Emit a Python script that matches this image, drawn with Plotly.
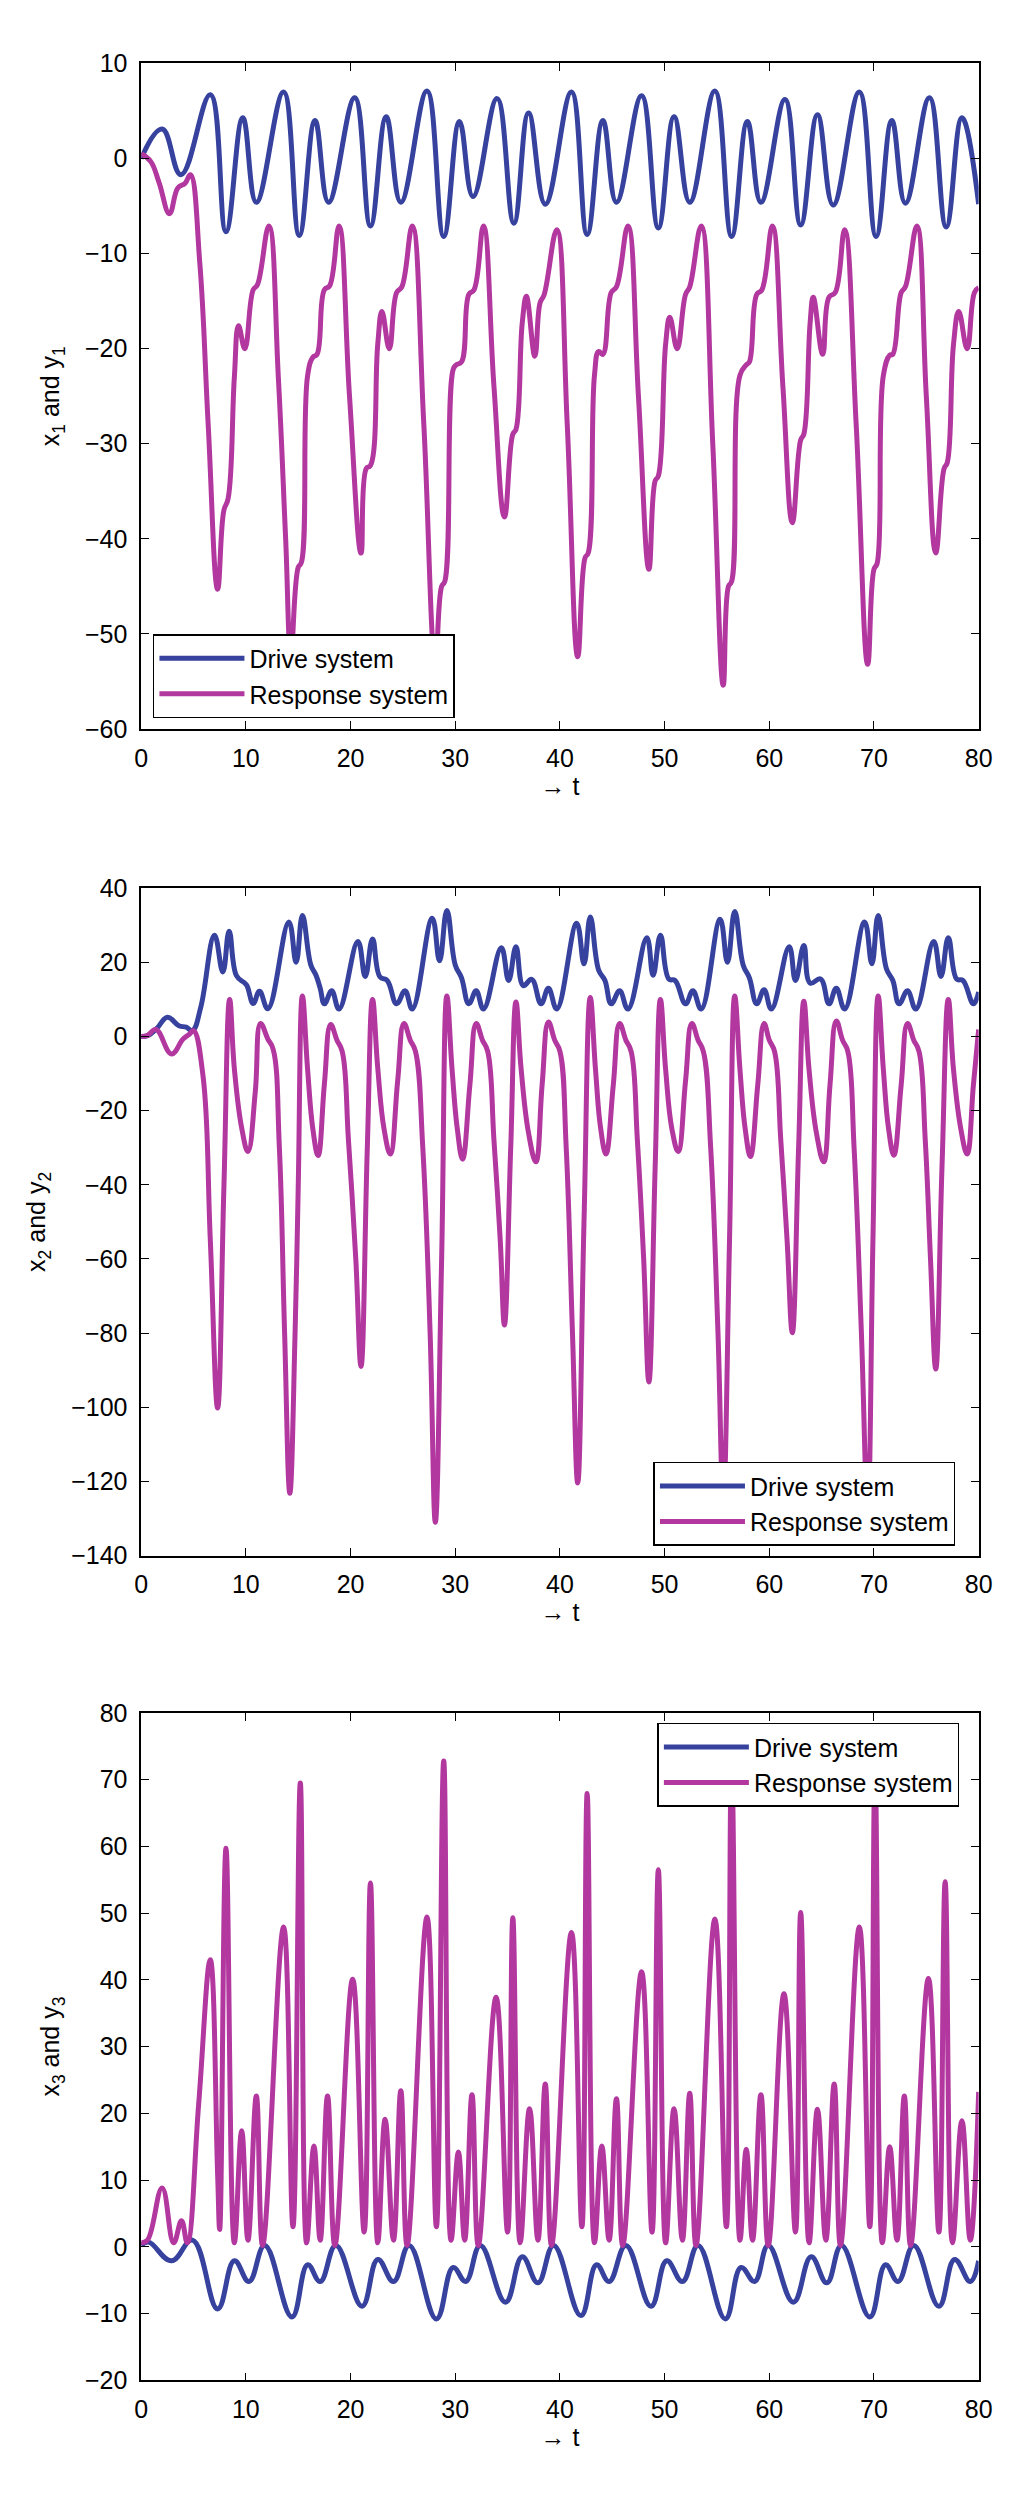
import plotly.graph_objects as go

# ---------------- data ----------------
# Panel 1: x1 (drive) and y1 (response)
t_x1 = [0, 2.0, 3.8, 6.6, 8.1, 9.7, 11.0, 13.6, 15.1, 16.6, 17.9, 20.4, 21.9, 23.4, 24.8,
        27.3, 28.9, 30.4, 31.7, 34.0, 35.6, 37.0, 38.6, 41.1, 42.6, 44.1, 45.4, 47.8, 49.4,
        50.9, 52.4, 54.8, 56.4, 57.9, 59.2, 61.5, 63.0, 64.6, 66.1, 68.6, 70.2, 71.7, 73.0,
        75.3, 76.9, 78.4, 80]
x1 = [0, 3.1, -1.7, 6.7, -7.7, 4.3, -4.6, 7.0, -8.1, 4.0, -4.6, 6.4, -7.1, 4.4, -4.6,
      7.1, -8.2, 3.9, -4.0, 6.3, -6.8, 4.8, -4.8, 7.0, -8.0, 4.0, -4.6, 6.6, -7.3,
      4.4, -4.6, 7.1, -8.2, 3.9, -4.6, 6.2, -7.0, 4.6, -4.9, 7.0, -8.2, 4.0, -4.7,
      6.4, -7.2, 4.3, -4.8]

t_y1 = [0, 0.9, 1.7, 2.7, 3.5, 4.2, 4.7, 5.6, 6.4, 7.3, 7.9, 8.3, 8.9, 9.3, 9.9, 10.7, 11.1,
        12.2, 13.1, 13.8, 14.3, 15.0, 15.3, 15.9, 16.4, 16.8, 17.5, 18.0,
        18.9, 19.9, 21.0, 21.5, 21.9, 22.6, 23.0, 23.7, 24.4, 24.9,
        25.9, 27.0, 28.1, 28.7, 29.0, 29.8, 30.1, 30.6, 31.3, 31.8,
        32.7, 33.7, 34.7, 35.5, 35.8, 36.4, 36.8, 37.6, 38.1, 38.5,
        39.7, 40.7, 41.7, 42.4, 42.7, 43.3, 43.7, 44.1, 44.9, 45.4,
        46.5, 47.5, 48.5, 49.1, 49.4, 50.1, 50.5, 51.2, 52.0, 52.4,
        53.5, 54.6, 55.6, 56.1, 56.4, 57.2, 57.8, 58.1, 58.8, 59.3,
        60.3, 61.3, 62.2, 63.0, 63.3, 63.9, 64.2, 65.1, 65.7, 66.3,
        67.2, 68.3, 69.4, 70.0, 70.3, 70.9, 71.5, 71.8, 72.6, 73.0,
        74.1, 75.0, 75.9, 76.7, 77.0, 77.6, 78.1, 78.9, 79.6, 80]
y1 = [0.5, -0.3, -2.5, -5.8, -3.1, -2.6, -1.7, -11, -28, -45.3, -37, -35.8, -23, -17.6, -20, -13.8, -13.3,
      -7.1, -23, -40, -52, -43, -42.5, -22.8, -20.9, -20.6, -13.8, -13.4,
      -7.1, -25, -41.5, -32.6, -32.3, -19.5, -16.1, -20, -14.1, -13.5,
      -7.1, -28, -53, -45, -44.5, -22.2, -21.7, -21.4, -14.3, -13.8,
      -7.1, -24, -37.7, -29, -28.5, -17.3, -14.5, -20.8, -15.2, -14.3,
      -7.5, -28, -52.4, -42, -41.5, -22.8, -20.3, -20.6, -14.1, -13.5,
      -7.1, -25, -43.2, -33.9, -33.4, -19.5, -16.7, -20, -14.3, -13.5,
      -7.1, -30, -55.4, -45, -44.5, -22.8, -21.7, -21.4, -14.3, -13.8,
      -7.1, -24, -38.3, -29.6, -29, -17.3, -14.6, -20.6, -14.6, -14.1,
      -7.5, -28, -53.2, -43.2, -42.6, -22.8, -20.7, -20.6, -14.1, -13.5,
      -7.1, -25, -41.5, -32.6, -32, -19.5, -16.1, -20, -14.1, -13.6]

# Panel 2: x2 (drive) and y2 (response)
t_x2 = [0, 0.6, 1.5, 2.5, 3.6, 4.3, 4.9, 5.7, 7.0, 7.8, 8.4, 9.1, 9.8, 10.1, 10.7, 11.3, 12.1,
        14.1, 14.8, 15.4, 16.2, 16.7, 17.1, 17.5, 18.2, 18.9,
        20.7, 21.4, 22.1, 22.8, 23.5, 24.4, 25.2, 25.9,
        27.8, 28.5, 29.2, 30.0, 30.6, 31.3, 32.0, 32.7,
        34.4, 35.1, 35.8, 36.5, 37.3, 38.2, 38.9, 39.7,
        41.6, 42.3, 42.9, 43.7, 44.3, 44.9, 45.7, 46.5,
        48.3, 48.9, 49.6, 50.4, 51.0, 52.0, 52.7, 53.5,
        55.3, 56.0, 56.7, 57.5, 58.1, 58.8, 59.5, 60.2,
        61.9, 62.5, 63.3, 63.9, 64.9, 65.7, 66.4, 67.2,
        69.1, 69.8, 70.4, 71.2, 71.8, 72.4, 73.2, 74.0,
        75.7, 76.4, 77.1, 77.9, 78.5, 79.5, 80]
x2 = [0, 0.2, 2.2, 5.2, 2.9, 2.5, 1.6, 8, 27.3, 17.4, 28.4, 16.4, 14.6, 13.7, 8.9, 12.2, 7.5,
      30.9, 20, 32.6, 19.3, 16.5, 13, 8.8, 12.3, 7.4,
      25.6, 16.2, 26.3, 16.1, 15.1, 8.8, 12.3, 7.4,
      31.9, 20.4, 34, 19.3, 15.8, 8.8, 12.3, 7.4,
      23.9, 15.1, 24.2, 13.7, 15.4, 8.8, 13, 7.4,
      30.5, 19.6, 32.2, 17.9, 15.1, 8.8, 12.3, 7.4,
      26.6, 16.5, 27.3, 15.5, 15.1, 8.8, 12.3, 7.4,
      31.6, 20, 33.7, 19.3, 15.8, 8.8, 12.6, 7.4,
      24.2, 15.1, 24.5, 14.4, 15.5, 8.8, 13, 7.4,
      30.9, 19.6, 32.6, 18.2, 15.1, 8.8, 12.3, 7.4,
      25.6, 16.2, 26.6, 15.5, 15.1, 8.8, 12]

t_y2 = [0, 0.6, 1.4, 2.9, 4.0, 4.6, 5.0, 5.9, 6.6, 7.3, 7.9, 8.45, 8.9, 9.6, 10.2, 10.9, 11.4,
        12.1, 12.6, 13.2, 13.7, 14.2, 14.7, 15.0, 15.4, 15.9, 16.4, 16.9, 17.5, 18.1,
        18.7, 19.2, 19.8, 20.5, 21.0, 21.6, 22.1, 22.6, 23.2, 23.8, 24.5, 25.1,
        25.7, 26.2, 26.9, 27.6, 28.1, 28.7, 29.2, 29.7, 30.2, 30.7, 31.4, 32.0,
        32.6, 33.1, 33.7, 34.3, 34.7, 35.3, 35.8, 36.3, 37.0, 37.7, 38.3, 38.9,
        39.5, 40.0, 40.6, 41.2, 41.7, 42.3, 42.9, 43.4, 43.9, 44.4, 45.1, 45.7,
        46.3, 46.8, 47.4, 48.0, 48.5, 49.1, 49.6, 50.1, 50.7, 51.3, 52.0, 52.6,
        53.2, 53.7, 54.4, 55.1, 55.6, 56.2, 56.7, 57.2, 57.7, 58.2, 58.9, 59.5,
        60.0, 60.5, 61.1, 61.7, 62.2, 62.8, 63.3, 63.8, 64.5, 65.2, 65.8, 66.4,
        67.0, 67.5, 68.1, 68.8, 69.4, 69.9, 70.4, 70.9, 71.4, 71.9, 72.6, 73.2,
        73.8, 74.3, 74.9, 75.4, 75.9, 76.5, 77.1, 77.6, 78.3, 78.9, 79.5, 80]
y2 = [0, 0.3, 1.9, -4.7, -0.7, 0.6, 1.6, -10.5, -54.7, -100.2, -40.8, 10, -8.7, -24.7, -31, -14.9, 3.5,
      -0.7, -3.4, -30, -80, -123.2, -80, -40.8, 10.9, -9, -25, -32.1, -12.8, 3.2,
      -1, -4, -28, -60, -89, -30, 10, -8.6, -25, -31.7, -12, 3.5,
      -1, -4, -30, -80, -131, -60, 10.9, -9, -25, -33.1, -13, 3.5,
      -1, -4, -28, -55, -77.8, -30, 9.3, -9, -26, -33.8, -13, 3.9,
      -1, -4, -30, -80, -120.4, -50, 10.5, -9, -25, -31.7, -13, 3.5,
      -1, -4, -28, -60, -93.2, -35, 10, -9, -25, -31, -12, 3.5,
      -1, -4, -30, -80, -125, -55, 10.9, -9, -25, -32.4, -13, 3.5,
      -1, -4, -28, -55, -79.9, -30, 9.5, -9, -26, -33.8, -13, 4.2,
      -1, -4, -30, -80, -128, -55, 10.9, -9, -25, -32, -13, 3.5,
      -1, -4, -28, -60, -89.7, -35, 10, -9, -25, -31.7, -13, 1.9]

# Panel 3: x3 (drive) and y3 (response)
t_x3 = [0, 0.7, 2.9, 4.9, 7.3, 8.9, 10.3, 11.8, 14.4, 15.9, 17.1, 18.6, 21.1, 22.6, 24.1, 25.6,
        28.2, 29.8, 31.0, 32.4, 34.8, 36.4, 37.9, 39.4, 42.0, 43.5, 44.7, 46.3, 48.7, 50.2,
        51.7, 53.2, 55.8, 57.3, 58.6, 59.9, 62.3, 64.0, 65.5, 66.9, 69.6, 71.1, 72.3, 73.8,
        76.2, 77.7, 79.2, 80]
x3 = [0.2, 0.7, -2.1, 1.0, -9.3, -2.1, -5.2, 0.2, -10.5, -2.7, -5.2, 0.2, -8.9, -1.9, -5.2, 0.2,
      -10.8, -3.1, -5.2, 0.2, -8.3, -1.5, -5.4, 0.2, -10.3, -2.7, -5.2, 0.2, -8.9, -2.1,
      -5.2, 0.2, -10.8, -3.1, -5.2, 0.2, -8.3, -1.5, -5.4, 0.2, -10.5, -2.7, -5.2, 0.2,
      -8.9, -1.9, -5.2, -2.1]

t_y3 = [0, 0.6, 2.0, 3.1, 3.85, 4.4, 5.5, 6.6, 7.3, 7.5, 8.1, 8.9, 9.6, 10.2, 11.0, 11.6,
        13.6, 14.5, 15.2, 15.8, 16.5, 17.1, 17.8, 18.5,
        20.2, 21.3, 21.9, 22.6, 23.3, 24.1, 24.8, 25.4,
        27.3, 28.2, 28.9, 29.6, 30.3, 30.9, 31.6, 32.2,
        33.9, 35.0, 35.5, 36.2, 37.1, 37.9, 38.6, 39.2,
        41.1, 42.1, 42.6, 43.3, 44.0, 44.7, 45.4, 46.0,
        47.8, 48.8, 49.4, 50.1, 50.9, 51.7, 52.4, 53.0,
        54.8, 55.9, 56.4, 57.2, 57.8, 58.4, 59.2, 59.9,
        61.4, 62.5, 63.0, 63.8, 64.6, 65.4, 66.2, 66.8,
        68.6, 69.6, 70.1, 70.8, 71.5, 72.2, 72.9, 73.5,
        75.2, 76.2, 76.8, 77.5, 78.4, 79.2, 80]
y3 = [0.6, 1.0, 8.8, 0.6, 3.9, 0.6, 21.6, 43, 10.9, 2.6, 59.7, 0.6, 17.4, 1.0, 22.6, 0.2,
      47.9, 3.0, 69.5, 0.6, 15.1, 1.0, 22.6, 0.2,
      40.1, 2.2, 54.5, 0.6, 19.1, 1.0, 23.4, 0.2,
      49.4, 3.0, 72.8, 1.0, 14.2, 1.0, 22.8, 0.2,
      37.4, 2.2, 49.3, 0.6, 20.7, 1.0, 24.4, 0.2,
      47.1, 3.0, 67.9, 0.6, 15.1, 1.0, 22.2, 0.2,
      41.2, 2.2, 56.5, 0.6, 20.7, 1.0, 23.0, 0.2,
      49.1, 3.0, 72.0, 1.0, 14.6, 1.0, 22.8, 0.2,
      37.9, 2.2, 50.1, 0.6, 20.6, 1.0, 24.4, 0.2,
      47.9, 3.0, 71.0, 0.6, 15.0, 1.0, 22.6, 0.2,
      40.2, 2.2, 54.7, 0.6, 18.9, 1.0, 23.2]

series_names = ["Drive system", "Response system"]
y_titles = ["x<sub>1</sub> and y<sub>1</sub>", "x<sub>2</sub> and y<sub>2</sub>",
            "x<sub>3</sub> and y<sub>3</sub>"]
x_title = "\u2192 t"
y_ranges = [[-60, 10], [-140, 40], [-20, 80]]
y_dticks = [10, 20, 10]

# ---------------- styling ----------------
BLUE = "#36429e"
MAGENTA = "#b2379f"
FONT = "Liberation Sans, Arial, Helvetica, sans-serif"
FS = 25
W, H = 1024, 2510

panels = [
    (t_x1, x1, t_y1, y1),
    (t_x2, x2, t_y2, y2),
    (t_x3, x3, t_y3, y3),
]
# pixel geometry of plot areas (top, bottom)
tops = [50, 884, 1718]
bottoms = [723, 1559, 2393]
left, right = 137, 992

legend_pos = [(149, 627), (660, 1464), (664, 1728)]

fig = go.Figure()
layout = dict(width=W, height=H, margin=dict(l=0, r=0, t=0, b=0),
              paper_bgcolor="white", plot_bgcolor="white",
              font=dict(family=FONT, size=FS, color="black"))

for i, (tx, xv, ty, yv) in enumerate(panels):
    n = i + 1
    xa = "x" if n == 1 else f"x{n}"
    ya = "y" if n == 1 else f"y{n}"
    lg = "legend" if n == 1 else f"legend{n}"
    fig.add_trace(go.Scatter(x=tx, y=xv, mode="lines", name=series_names[0],
                             line=dict(color=BLUE, width=5, shape="spline", smoothing=1.2),
                             xaxis=xa, yaxis=ya, legend=lg))
    fig.add_trace(go.Scatter(x=ty, y=yv, mode="lines", name=series_names[1],
                             line=dict(color=MAGENTA, width=5, shape="spline", smoothing=1.2),
                             xaxis=xa, yaxis=ya, legend=lg))
    common = dict(showline=True, linecolor="black", linewidth=1.5, mirror="ticks",
                  ticks="inside", ticklen=8, tickwidth=1.2, tickcolor="black",
                  showgrid=False, zeroline=False,
                  tickfont=dict(family=FONT, size=FS, color="black"))
    xkey = "xaxis" if n == 1 else f"xaxis{n}"
    ykey = "yaxis" if n == 1 else f"yaxis{n}"
    layout[xkey] = dict(common, domain=[left / W, right / W], anchor=ya, range=[0, 80],
                        tick0=0, dtick=10, ticklabelstandoff=6,
                        title=dict(text=x_title, standoff=0, font=dict(family=FONT, size=FS)))
    layout[ykey] = dict(common, domain=[1 - bottoms[i] / H, 1 - tops[i] / H], anchor=xa,
                        range=y_ranges[i], tick0=0, dtick=y_dticks[i], ticklabelstandoff=7,
                        title=dict(text=y_titles[i], standoff=18, font=dict(family=FONT, size=FS)))
    lx, ly = legend_pos[i]
    layout[lg] = dict(x=lx / W, y=1 - ly / H, xanchor="left", yanchor="top",
                      bgcolor="white", bordercolor="black", borderwidth=1.5,
                      font=dict(family=FONT, size=FS, color="black"),
                      itemwidth=85, tracegroupgap=0)

fig.update_layout(**layout)
fig.update_layout(showlegend=True)
fig.write_html("out.html")
